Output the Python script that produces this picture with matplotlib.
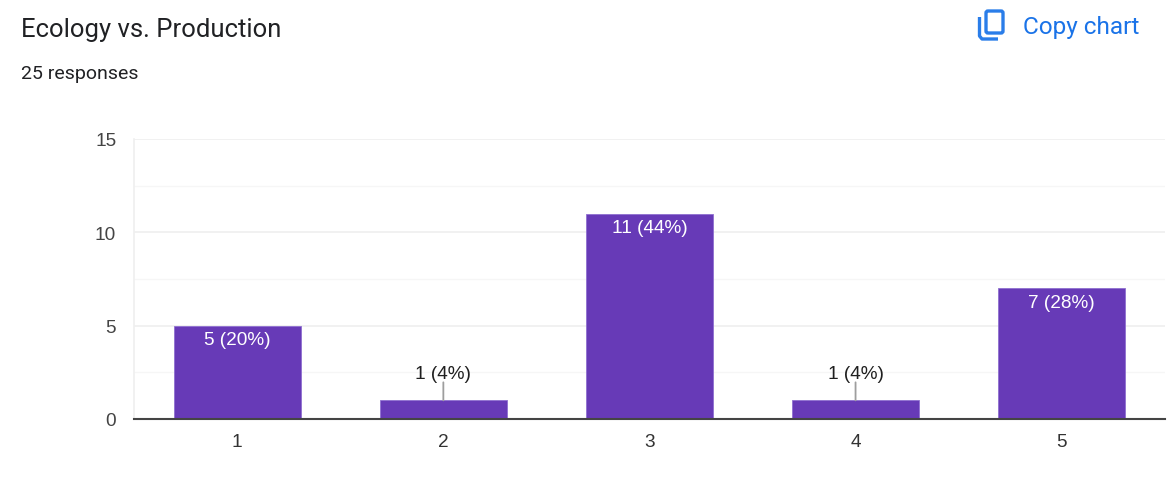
import matplotlib
matplotlib.use("Agg")
import matplotlib.pyplot as plt
from matplotlib.patches import FancyBboxPatch

# data
categorias = ["1", "2", "3", "4", "5"]
respuestas = [5, 1, 11, 1, 7]
etiquetas = ["5 (20%)", "1 (4%)", "11 (44%)", "1 (4%)", "7 (28%)"]
ticks_y = [0, 5, 10, 15]
ticks_menores = [2.5, 7.5, 12.5]

W, H = 1171, 485
plt.rcParams["font.family"] = ["Liberation Sans", "DejaVu Sans"]

fig = plt.figure(figsize=(W / 100, H / 100), dpi=100)

# capa en pixeles para titulo e icono
capa = fig.add_axes([0, 0, 1, 1])
capa.set_xlim(0, W)
capa.set_ylim(H, 0)
capa.axis("off")
capa.text(21, 30, "Ecology vs. Production", fontsize=18.45, family="Roboto", color="#202124", va="center")
capa.text(21, 74, "25 responses", fontsize=14, family="Roboto", color="#202124", va="center")
capa.text(1023, 27.5, "Copy chart", fontsize=17.6, family="Roboto", color="#1a73e8", va="center")

# icono de copiar
azul = "#2a7de9"
capa.add_patch(FancyBboxPatch((986, 12), 17, 22, boxstyle="round,pad=0,rounding_size=2",
                              fc="none", ec=azul, lw=2.4))
capa.plot([979.5, 979.5, 982, 998], [18, 37, 40, 40], color=azul, lw=2.4, solid_capstyle="butt")

ax = fig.add_axes([134.2 / W, (H - 420) / H, 1030.5 / W, 280 / H])
ax.set_xlim(-0.5, 4.5)
ax.set_ylim(0, 15)

ax.set_yticks(ticks_y)
ax.set_yticks(ticks_menores, minor=True)
ax.grid(True, axis="y", which="major", color="#efefef", lw=1.2)
ax.grid(True, axis="y", which="minor", color="#f6f6f6", lw=1.0)
ax.set_axisbelow(True)

x = range(len(categorias))
ax.bar(x, respuestas, width=0.615, color="#673ab7", edgecolor="#8f6fd0", linewidth=0.6, zorder=2)

for i, v in enumerate(respuestas):
    if v >= 3:
        ax.annotate(etiquetas[i], (i, v), xytext=(0, -14), textcoords="offset pixels",
                    ha="center", va="center", color="white", fontsize=13.7, zorder=4)
    else:
        ax.annotate(etiquetas[i], (i, v), xytext=(0, 27), textcoords="offset pixels",
                    ha="center", va="center", color="#1f1f1f", fontsize=13.7, zorder=4)
        ax.annotate("", (i, v), xytext=(0, 18), textcoords="offset pixels",
                    arrowprops=dict(arrowstyle="-", color="#9e9e9e", lw=1.3, shrinkA=0, shrinkB=0), zorder=3)

ax.set_xticks(list(x))
ax.set_xticklabels(categorias)
ax.tick_params(axis="both", which="both", length=0)
ax.tick_params(axis="x", labelsize=13.7, labelcolor="#333333", pad=10)
ax.tick_params(axis="y", labelsize=13.7, labelcolor="#444444", pad=13)

for lado in ["top", "right"]:
    ax.spines[lado].set_visible(False)
ax.spines["left"].set_color("#efefef")
ax.spines["left"].set_linewidth(1.2)
ax.spines["bottom"].set_color("#444444")
ax.spines["bottom"].set_linewidth(1.5)
ax.spines["bottom"].set_zorder(5)

fig.savefig("out.png", dpi=100)
